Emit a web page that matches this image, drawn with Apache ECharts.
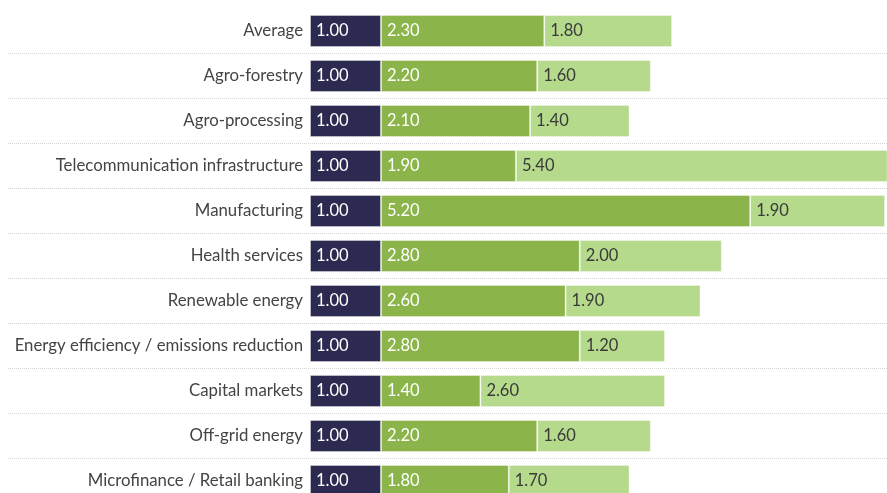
<!DOCTYPE html>
<html style="height: 100%">
<head>
  <meta charset="utf-8">
  <title>Sector cost multiples</title>
  <script src="https://cdn.jsdelivr.net/npm/echarts@6/dist/echarts.min.js"></script>
</head>
<body style="height: 100%; margin: 0; background: #fff">
  <div id="main" style="width: 887px; height: 493px;"></div>
  <script type="text/javascript">
    var categories = ['Average', 'Agro-forestry', 'Agro-processing', 'Telecommunication infrastructure',
      'Manufacturing', 'Health services', 'Renewable energy', 'Energy efficiency / emissions reduction',
      'Capital markets', 'Off-grid energy', 'Microfinance / Retail banking'];
    var baseValues = [1.00, 1.00, 1.00, 1.00, 1.00, 1.00, 1.00, 1.00, 1.00, 1.00, 1.00];
    var midValues = [2.30, 2.20, 2.10, 1.90, 5.20, 2.80, 2.60, 2.80, 1.40, 2.20, 1.80];
    var topValues = [1.80, 1.60, 1.40, 5.40, 1.90, 2.00, 1.90, 1.20, 2.60, 1.60, 1.70];

    var dom = document.getElementById('main');
    var myChart = echarts.init(dom);

    // one value unit = 71px; zero sits at x=310, the dotted rules start at x=8
    var pxPerUnit = 71;
    var zeroX = 310;
    var gridLeft = 8;

    function seg(name, data, color, labelColor) {
      return {
        name: name,
        type: 'bar',
        stack: 'total',
        barWidth: 32,
        data: data,
        itemStyle: { color: color, borderColor: 'rgba(255,255,255,0.35)', borderWidth: 1 },
        label: {
          show: true,
          position: 'insideLeft',
          distance: 6,
          color: labelColor,
          fontFamily: 'Lato',
          fontSize: 16.5,
          formatter: function (p) { return p.value.toFixed(2); }
        }
      };
    }

    var option = {
      animation: false,
      grid: { left: gridLeft, width: 887 - gridLeft, top: 8.5, height: 495, containLabel: false, outerBoundsMode: 'none' },
      xAxis: {
        type: 'value',
        min: -(zeroX - gridLeft) / pxPerUnit,
        max: (887 - zeroX) / pxPerUnit,
        show: false,
        splitLine: { show: false }
      },
      yAxis: {
        type: 'category',
        inverse: true,
        data: categories,
        axisLine: { show: false },
        axisTick: { show: false },
        // labels pulled inside the grid so they end just before the bars
        axisLabel: { color: '#444', fontFamily: 'Lato', fontSize: 16.8, margin: -(zeroX - 7 - gridLeft) },
        splitLine: {
          show: true,
          showMinLine: false,
          showMaxLine: false,
          lineStyle: { color: '#d6d6d6', type: 'dotted', width: 1 }
        }
      },
      series: [
        seg('Base', baseValues, '#2c2a50', '#fff'),
        seg('Mid', midValues, '#8bb54a', '#fff'),
        seg('Top', topValues, '#b6da8c', '#3a3a3a')
      ]
    };
    myChart.setOption(option, true);
  </script>
</body>
</html>
